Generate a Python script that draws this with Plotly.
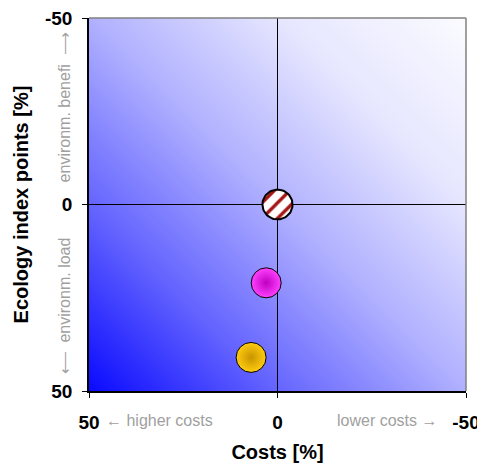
import plotly.graph_objects as go
import numpy as np

# ---- data ----
names = ["Reference", "Variant A", "Variant B"]
costs = [0, 3, 7]          # Costs [%]
ecology = [0, 21, 41]      # Ecology index points [%]
tick_vals = [50, 0, -50]
tick_text = ["50", "0", "-50"]

FONT = "Liberation Sans, Arial, sans-serif"

fig = go.Figure()

# hatched reference marker (circle area with a stripe pattern)
r = 4.0
th = np.linspace(0, 2 * np.pi, 73)
fig.add_trace(go.Scatter(
    x=costs[0] + r * np.cos(th), y=ecology[0] + r * np.sin(th),
    mode="lines", fill="toself", fillcolor="white",
    fillpattern=dict(shape="/", fgcolor="#a41414", bgcolor="white", fgopacity=1,
                     size=11, solidity=0.3),
    line=dict(color="black", width=2), hoverinfo="skip", showlegend=False,
))

fig.add_trace(go.Scatter(
    x=[costs[1]], y=[ecology[1]], mode="markers", showlegend=False,
    marker=dict(size=30, color="#ff40ff", gradient=dict(type="radial", color="#c000c0"),
                line=dict(color="black", width=1)),
))
fig.add_trace(go.Scatter(
    x=[costs[2]], y=[ecology[2]], mode="markers", showlegend=False,
    marker=dict(size=30, color="#ffcc10", gradient=dict(type="radial", color="#c89400"),
                line=dict(color="black", width=1)),
))

svg = ("data:image/svg+xml;utf8,<svg xmlns='http://www.w3.org/2000/svg' width='100' height='100' "
       "preserveAspectRatio='none' viewBox='0 0 100 100'><defs><linearGradient id='g' x1='0' y1='1' x2='1' y2='0'>"
       "<stop offset='0' stop-color='%230a0aff'/><stop offset='0.25' stop-color='%236464ff'/>"
       "<stop offset='0.5' stop-color='%23b0b0ff'/><stop offset='0.75' stop-color='%23e6e6ff'/>"
       "<stop offset='1' stop-color='%23fbfbff'/></linearGradient></defs>"
       "<rect width='100' height='100' fill='url(%23g)'/></svg>")

axis_common = dict(
    tickvals=tick_vals, ticktext=tick_text, ticks="outside", ticklen=5, tickcolor="black",
    tickfont=dict(family=FONT, size=19, color="black", weight="bold"),
    showgrid=False, zeroline=True, zerolinecolor="black", zerolinewidth=1,
    showline=True, linecolor="black", linewidth=1.5, automargin=False,
    ticklabeloverflow="allow",
)

title_font = dict(family=FONT, size=20, color="black", weight="bold")
gray = dict(family=FONT, size=16, color="#a0a0a0")
ann = dict(xref="paper", yref="paper", showarrow=False, font=gray,
           xanchor="center", yanchor="middle")

# page body has an 8px margin: figure is offset by (8, 8)
fig.update_layout(
    width=477, height=456,
    margin=dict(l=81, r=19, t=10, b=73),
    paper_bgcolor="white", plot_bgcolor="white",
    xaxis=dict(range=[50, -50], title=dict(text="Costs [%]", standoff=13, font=title_font),
               ticklabelstandoff=8, **axis_common),
    yaxis=dict(range=[50, -50], title=dict(text="Ecology index points [%]", standoff=11,
               font=title_font),
               ticklabelstandoff=6, **axis_common),
    images=[dict(source=svg, xref="paper", yref="paper", x=0, y=1, sizex=1, sizey=1,
                 sizing="stretch", layer="below", xanchor="left", yanchor="top")],
    shapes=[
        dict(type="line", xref="paper", yref="paper", x0=0, x1=1, y0=1, y1=1,
             line=dict(color="#808080", width=1.5)),
        dict(type="line", xref="paper", yref="paper", x0=1, x1=1, y0=0, y1=1,
             line=dict(color="#808080", width=1.5)),
    ],
    annotations=[
        dict(text="\u2190 higher costs", x=0.188, y=-0.080, **ann),
        dict(text="lower costs \u2192", x=0.791, y=-0.080, **ann),
        dict(text="environm. benefi  \u27f6", x=-0.064, y=0.760, textangle=-90, **ann),
        dict(text="\u27f5  environm. load", x=-0.064, y=0.229, textangle=-90, **ann),
    ],
)

fig.write_html("out.html")
